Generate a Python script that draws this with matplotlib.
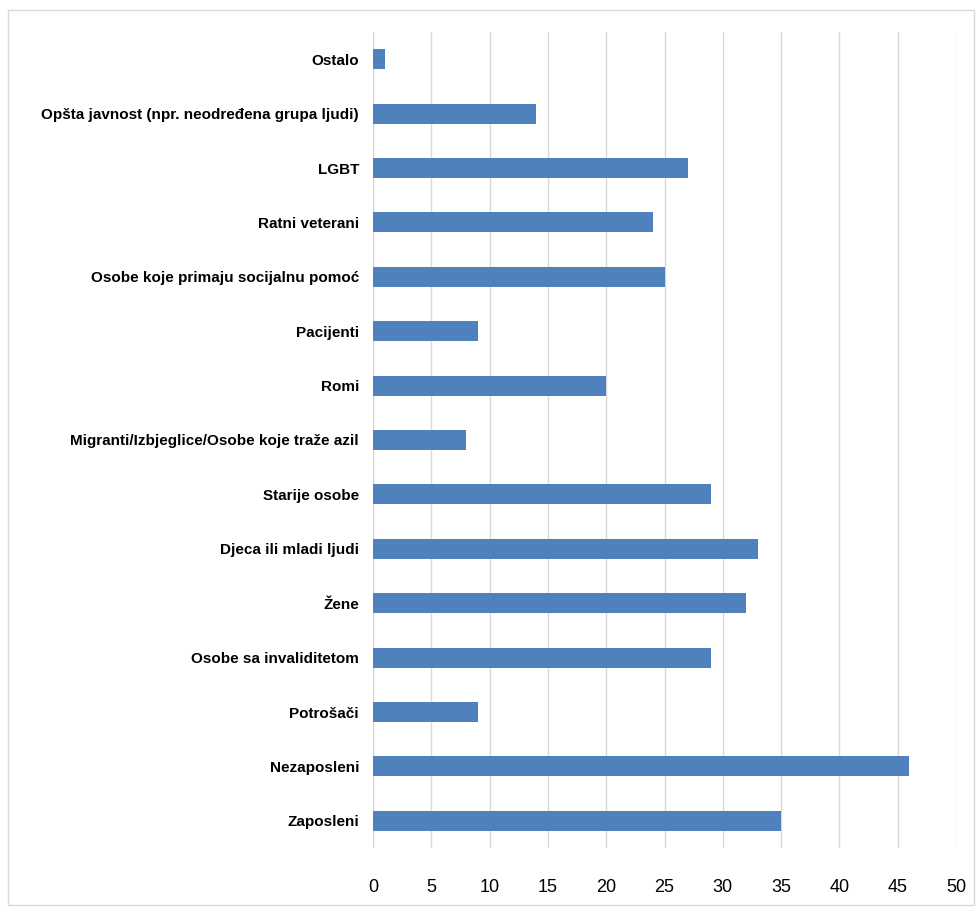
import matplotlib
matplotlib.use('Agg')
import matplotlib.pyplot as plt
from matplotlib.patches import Rectangle

# categories from top to bottom as in the picture
categories = [
    'Ostalo',
    'Opšta javnost (npr. neodređena grupa ljudi)',
    'LGBT',
    'Ratni veterani',
    'Osobe koje primaju socijalnu pomoć',
    'Pacijenti',
    'Romi',
    'Migranti/Izbjeglice/Osobe koje traže azil',
    'Starije osobe',
    'Djeca ili mladi ljudi',
    'Žene',
    'Osobe sa invaliditetom',
    'Potrošači',
    'Nezaposleni',
    'Zaposleni',
]
values = [1, 14, 27, 24, 25, 9, 20, 8, 29, 33, 32, 29, 9, 46, 35]
xticks = list(range(0, 55, 5))

BAR = '#4f81bd'
label_font = ['Liberation Sans Narrow', 'Liberation Sans', 'DejaVu Sans']

fig = plt.figure(figsize=(9.76, 9.08), dpi=100)
ax = fig.add_axes([373 / 976, 1 - 848 / 908, (956 - 373) / 976, (848 - 32) / 908])

ypos = list(range(len(categories)))[::-1]
ax.barh(ypos, values, height=0.37, color=BAR, zorder=3)
ax.set_xlim(0, 50)
ax.set_ylim(-0.5, len(categories) - 0.5)
ax.set_xticks(xticks)
ax.set_xticklabels([str(t) for t in xticks], fontsize=13, family=label_font)
ax.set_yticks(ypos)
ax.set_yticklabels(categories, fontsize=11, fontweight='bold', family=label_font)
ax.tick_params(axis='both', length=0)
ax.tick_params(axis='x', pad=22)
ax.tick_params(axis='y', pad=10)
ax.grid(axis='x', color='#d9d9d9', lw=1, zorder=0)
for s in ax.spines.values():
    s.set_visible(False)
ax.axvline(0, color='#d9d9d9', lw=1, zorder=1)

# light frame round the chart area
fig.patches.append(Rectangle((8 / 976, 3 / 908), 966 / 976, 895 / 908, transform=fig.transFigure,
                             fill=False, edgecolor='#d9d9d9', lw=1))

fig.savefig('out.png', dpi=100)
